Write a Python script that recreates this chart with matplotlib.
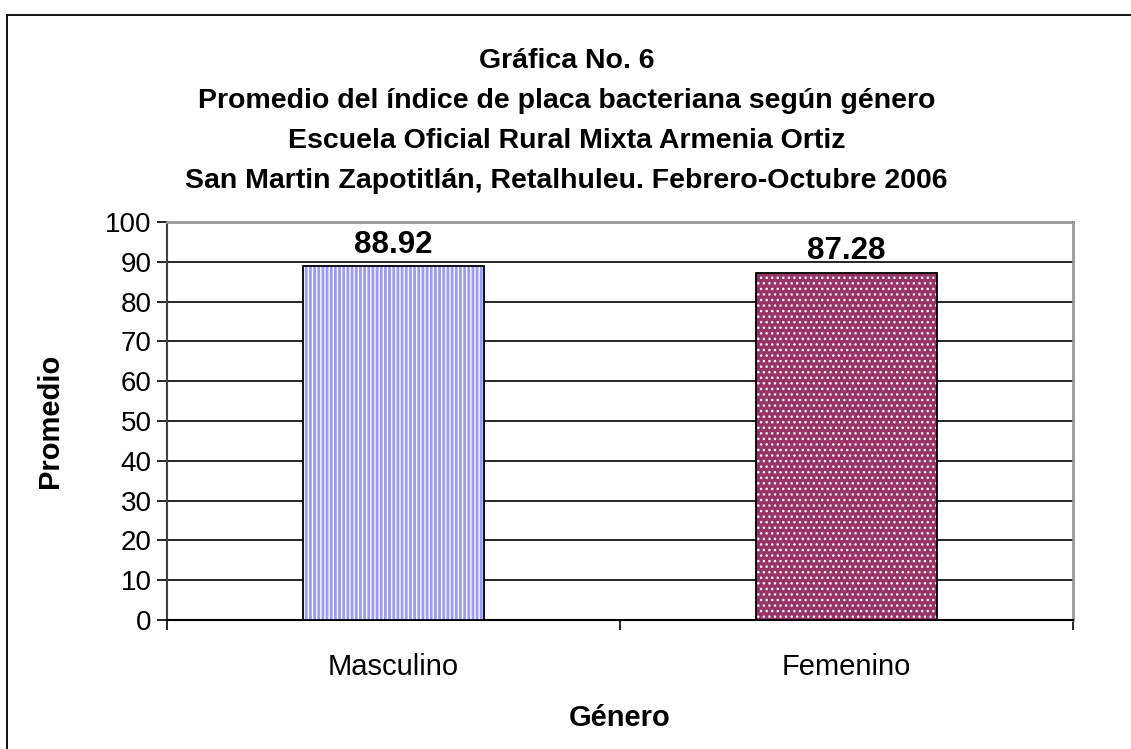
import matplotlib
matplotlib.use("Agg")
import matplotlib.pyplot as plt
import numpy as np

plt.rcParams['font.family'] = ['Liberation Sans', 'DejaVu Sans']

# datos
generos = ['Masculino', 'Femenino']
promedios = [88.92, 87.28]
etiquetas = ['88.92', '87.28']
yticks = list(range(0, 101, 10))

titulo = ["Gráfica No. 6",
          "Promedio del índice de placa bacteriana según género",
          "Escuela Oficial Rural Mixta Armenia Ortiz",
          "San Martin Zapotitlán, Retalhuleu. Febrero-Octubre 2006"]

fig = plt.figure(figsize=(11.31, 7.49), dpi=100)

# marco exterior del grafico (solo se ven los bordes izquierdo y superior)
fig.add_artist(plt.Rectangle((7 / 1131, -0.1), 1.2, 1 - 15 / 749 + 0.1,
                             transform=fig.transFigure, fill=False,
                             edgecolor='black', linewidth=1.3))

ax = fig.add_axes([167 / 1131, 1 - 620 / 749, (1073 - 167) / 1131, (620 - 222) / 749])

x = np.arange(len(generos))
ancho = 0.4
rellenos = ['white', '#993366']
tramas = ['||||', '...']
color_trama = ['#9999ff', 'white']
grosor_trama = [2.0, 1.0]

for i in range(len(generos)):
    plt.rcParams['hatch.linewidth'] = grosor_trama[i]
    # relleno con trama (el color de borde define el color de la trama)
    ax.bar(x[i], promedios[i], ancho, color=rellenos[i], hatch=tramas[i],
           edgecolor=color_trama[i], linewidth=0, zorder=3)
    # contorno negro
    ax.bar(x[i], promedios[i], ancho, fill=False, edgecolor='black',
           linewidth=1.3, zorder=4)
    ax.text(x[i], promedios[i] + 1.6, etiquetas[i], ha='center', va='bottom',
            fontsize=22.5, fontweight='bold', zorder=5)

ax.set_xlim(-0.5, 1.5)
ax.set_ylim(0, 100)
ax.set_yticks(yticks)
ax.set_yticklabels([str(v) for v in yticks], fontsize=20)
ax.set_xticks(x)
ax.set_xticklabels(generos, fontsize=21)
ax.set_xticks([-0.5, 0.5, 1.5], minor=True)
ax.tick_params(axis='x', which='major', length=0, pad=24)
ax.tick_params(axis='x', which='minor', length=7, width=1.2, direction='out')
ax.tick_params(axis='y', length=7, width=1.2, direction='out', pad=4)

ax.yaxis.grid(True, color='black', linewidth=1.2, zorder=0)
ax.set_axisbelow(True)

ax.spines['left'].set_color('#404040')
ax.spines['left'].set_linewidth(1.5)
ax.spines['bottom'].set_color('black')
ax.spines['bottom'].set_linewidth(1.5)
ax.spines['top'].set_color('#999999')
ax.spines['top'].set_linewidth(2)
ax.spines['right'].set_color('#999999')
ax.spines['right'].set_linewidth(2)

ax.set_ylabel('Promedio', fontsize=21, fontweight='bold', labelpad=30)
ax.set_xlabel('Género', fontsize=21, fontweight='bold', labelpad=16)

for k, linea in enumerate(titulo):
    fig.text(0.501, 1 - (61 + 40 * k) / 749, linea, ha='center', va='center',
             fontsize=20.5, fontweight='bold')

fig.savefig('out.png', dpi=100)
